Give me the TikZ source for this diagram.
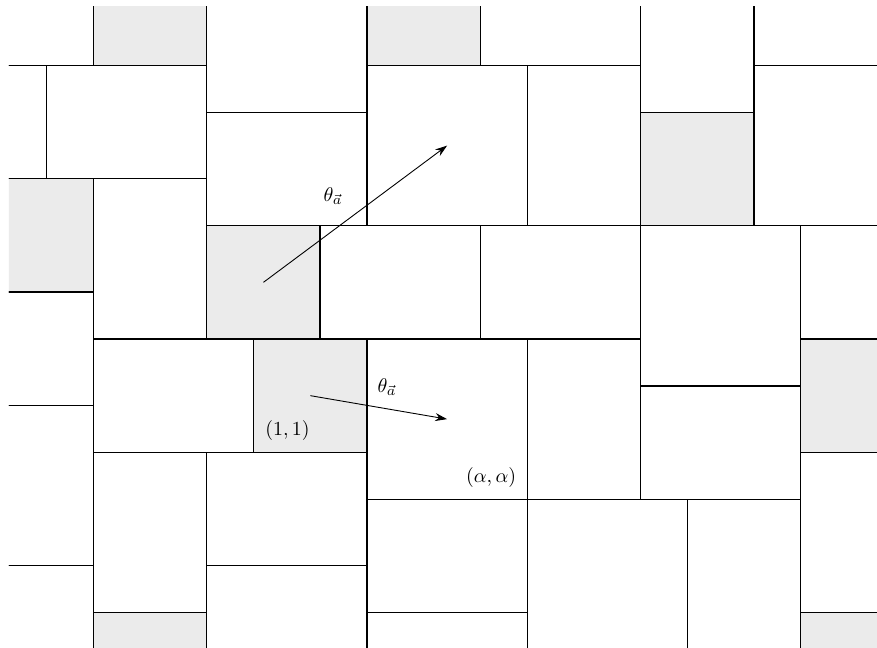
\documentclass[tikz,border=0pt]{standalone}
\usetikzlibrary{arrows.meta}
\begin{document}
\begin{tikzpicture}[x=2cm,y=2cm]
\def\A{1.41421356}
\tikzset{
  tile/.style={draw=black, line width=0.7pt},
  grayfill/.style={fill=black!8},
  vec/.style={line width=0.45pt, -{Stealth[length=6pt,width=4pt]}}
}
\useasboundingbox (-3.2392,-2.7185) rectangle (4.5013,2.9921);
\begin{scope}
\clip (-3.160,-2.7185) rectangle (4.5013,2.939);
% gray fills
\fill[grayfill] ({-1-\A},{1+\A}) rectangle ({-\A},{2+\A});
\fill[grayfill] (0,{1+\A}) rectangle (1,{2+\A});
\fill[grayfill] ({1+\A},1) rectangle ({2+\A},2);
\fill[grayfill] ({-2-\A},{\A-1}) rectangle ({-1-\A},{\A});
\fill[grayfill] ({-\A},0) rectangle ({1-\A},1);
\fill[grayfill] (-1,-1) rectangle (0,0);
\fill[grayfill] ({1+2*\A},-1) rectangle ({2+2*\A},0);
\fill[grayfill] ({-1-\A},{-2-\A}) rectangle ({-\A},{-1-\A});
\fill[grayfill] ({1+2*\A},{-2-\A}) rectangle ({2+2*\A},{-1-\A});
% gray tile outlines
\draw[tile] ({-1-\A},{1+\A}) rectangle ({-\A},{2+\A});
\draw[tile] (0,{1+\A}) rectangle (1,{2+\A});
\draw[tile] ({1+\A},1) rectangle ({2+\A},2);
\draw[tile] ({-2-\A},{\A-1}) rectangle ({-1-\A},{\A});
\draw[tile] ({-\A},0) rectangle ({1-\A},1);
\draw[tile] (-1,-1) rectangle (0,0);
\draw[tile] ({1+2*\A},-1) rectangle ({2+2*\A},0);
\draw[tile] ({-1-\A},{-2-\A}) rectangle ({-\A},{-1-\A});
\draw[tile] ({1+2*\A},{-2-\A}) rectangle ({2+2*\A},{-1-\A});
% white tile outlines
\draw[tile] (-5,{1+\A}) rectangle ({-1-\A},5);
\draw[tile] ({-\A},2) rectangle (0,{2+\A});
\draw[tile] (1,{1+\A}) rectangle ({1+\A},5);
\draw[tile] ({1+\A},2) rectangle ({2+\A},5);
\draw[tile] ({2+\A},{1+\A}) rectangle (6,5);
\draw[tile] (-5,{\A}) rectangle ({-2*\A},{1+\A});
\draw[tile] ({-2*\A},{\A}) rectangle ({-\A},{1+\A});
\draw[tile] ({-\A},1) rectangle (0,2);
\draw[tile] (0,1) rectangle ({\A},{1+\A});
\draw[tile] ({\A},1) rectangle ({1+\A},{1+\A});
\draw[tile] ({2+\A},1) rectangle (6,{1+\A});
\draw[tile] ({-1-\A},0) rectangle ({-\A},{\A});
\draw[tile] ({1-\A},0) rectangle (1,1);
\draw[tile] (1,0) rectangle ({1+\A},1);
\draw[tile] ({1+\A},{1-\A}) rectangle ({1+2*\A},1);
\draw[tile] ({1+2*\A},0) rectangle (6,1);
\draw[tile] (-5,{\A-2}) rectangle ({-1-\A},{\A-1});
\draw[tile] ({-1-\A},-1) rectangle (-1,0);
\draw[tile] (0,{-\A}) rectangle ({\A},0);
\draw[tile] ({\A},{-\A}) rectangle ({1+\A},0);
\draw[tile] ({1+\A},{-\A}) rectangle ({1+2*\A},{1-\A});
\draw[tile] (-5,-2) rectangle ({-1-\A},{\A-2});
\draw[tile] ({-1-\A},{-1-\A}) rectangle ({-\A},-1);
\draw[tile] ({-\A},-2) rectangle (0,-1);
\draw[tile] (0,{-1-\A}) rectangle ({\A},{-\A});
\draw[tile] ({\A},{-2*\A}) rectangle ({2*\A},{-\A});
\draw[tile] ({2*\A},-5) rectangle ({1+2*\A},{-\A});
\draw[tile] ({1+2*\A},{-1-\A}) rectangle (6,-1);
\draw[tile] (-5,-5) rectangle ({-1-\A},-2);
\draw[tile] ({-\A},-5) rectangle (0,-2);
\draw[tile] (0,-5) rectangle ({\A},{-1-\A});
\end{scope}
% vectors
\coordinate (g1) at ({0.5-\A},0.5);
\coordinate (w1) at ({\A/2},{1+\A/2});
\coordinate (g2) at (-0.5,-0.5);
\coordinate (w2) at ({\A/2},{-\A/2});
\draw[vec] (g1) -- (w1);
\draw[vec] (g2) -- (w2);
% labels
\node (l1) at (-0.300,1.262) {$\theta_{\vec a}$};
\node (l2) at (0.177,-0.424) {$\theta_{\vec a}$};
\node (p1) at (-0.702,-0.806) {$(1,1)$};
\node (p2) at (1.096,-1.225) {$(\alpha,\alpha)$};
\end{tikzpicture}
\end{document}
